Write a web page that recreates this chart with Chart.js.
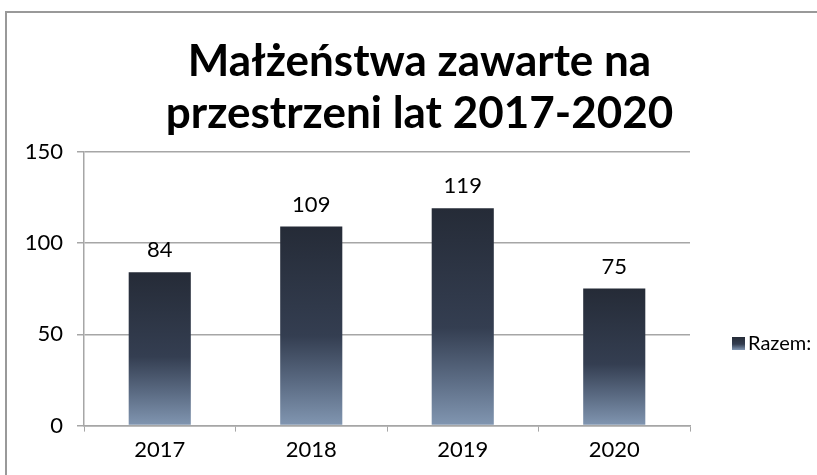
<!DOCTYPE html>
<html>
<head>
<meta charset="utf-8">
<script src="https://cdn.jsdelivr.net/npm/chart.js@4.4.0/dist/chart.umd.min.js"></script>
<style>
  body { margin: 0; background: #fff; }
  .wrap { position: relative; width: 817px; height: 475px; overflow: hidden; }
  .frame { position: absolute; left: 5px; top: 11px; width: 900px; height: 600px;
           border-left: 2px solid #999; border-top: 2px solid #999; pointer-events: none; }
  canvas { position: absolute; left: 0; top: 0; }
</style>
</head>
<body>
<div class="wrap">
  <canvas id="myChart" width="817" height="475"></canvas>
  <div class="frame"></div>
</div>
<script>
const categories = ["2017", "2018", "2019", "2020"];
const values = [84, 109, 119, 75];
const yTicks = [0, 50, 100, 150];
const seriesName = "Razem:";
const titleLines = ["Małżeństwa zawarte na", "przestrzeni lat 2017-2020"];

Chart.defaults.font.family = "Lato";
Chart.defaults.color = "#000";

function barGradient(g) {
  g.addColorStop(0, "#252b37");
  g.addColorStop(0.55, "#343e51");
  g.addColorStop(0.78, "#5a6a82");
  g.addColorStop(1, "#8196b1");
  return g;
}

// value labels above the bars
const valueLabels = {
  id: "valueLabels",
  afterDatasetsDraw(chart) {
    const ctx = chart.ctx;
    const meta = chart.getDatasetMeta(0);
    ctx.save();
    ctx.font = "22px Lato";
    ctx.fillStyle = "#000";
    ctx.textAlign = "center";
    ctx.textBaseline = "bottom";
    meta.data.forEach((bar, i) => {
      ctx.fillText(String(chart.data.datasets[0].data[i]), bar.x, bar.y - 11);
    });
    ctx.restore();
  }
};

// legend on the right, drawn by hand so it sits where Excel put it
const sideLegend = {
  id: "sideLegend",
  afterDraw(chart) {
    const ctx = chart.ctx;
    const x = chart.chartArea.right + 42;
    const y = 343;
    ctx.save();
    ctx.fillStyle = barGradient(ctx.createLinearGradient(0, y - 6, 0, y + 7));
    ctx.fillRect(x, y - 6, 13, 13);
    ctx.font = "20px Lato";
    ctx.fillStyle = "#000";
    ctx.textBaseline = "middle";
    ctx.fillText(chart.data.datasets[0].label, x + 16, y + 1);
    ctx.restore();
  }
};

new Chart(document.getElementById("myChart").getContext("2d"), {
  type: "bar",
  data: {
    labels: categories,
    datasets: [{
      label: seriesName,
      data: values,
      backgroundColor(c) {
        const chart = c.chart;
        if (!chart.chartArea || c.raw === undefined) return "#343e51";
        const y = chart.scales.y;
        const top = y.getPixelForValue(c.raw);
        const bottom = y.getPixelForValue(0);
        return barGradient(chart.ctx.createLinearGradient(0, top, 0, bottom));
      },
      categoryPercentage: 1,
      barPercentage: 0.41
    }]
  },
  options: {
    responsive: false,
    animation: false,
    layout: { padding: { left: 22, right: 0, top: 0, bottom: 7 } },
    plugins: {
      legend: { display: false },
      tooltip: { enabled: false },
      title: {
        display: true,
        text: titleLines,
        font: { size: 44, weight: "bold", lineHeight: 1.2 },
        color: "#000",
        padding: { top: 35, bottom: 11 }
      }
    },
    scales: {
      x: {
        grid: { display: true, drawOnChartArea: false, drawTicks: true, tickLength: 6, color: "#a6a6a6" },
        border: { color: "#a6a6a6", width: 1.5 },
        ticks: { font: { size: 22 }, padding: 5 }
      },
      y: {
        min: 0,
        max: 150,
        afterBuildTicks(axis) { axis.ticks = yTicks.map(v => ({ value: v })); },
        afterFit(axis) { axis.width = 62; },
        grid: { color: "#a6a6a6", lineWidth: 1.5, tickLength: 7 },
        border: { color: "#a6a6a6", width: 1.5 },
        ticks: { font: { size: 22 }, padding: 14 }
      },
      // empty axis that only keeps room for the legend on the right
      legendRoom: {
        type: "linear",
        position: "right",
        grid: { display: false },
        border: { display: false },
        ticks: { display: false },
        afterFit(axis) { axis.width = 127; }
      }
    }
  },
  plugins: [valueLabels, sideLegend]
});
</script>
</body>
</html>
